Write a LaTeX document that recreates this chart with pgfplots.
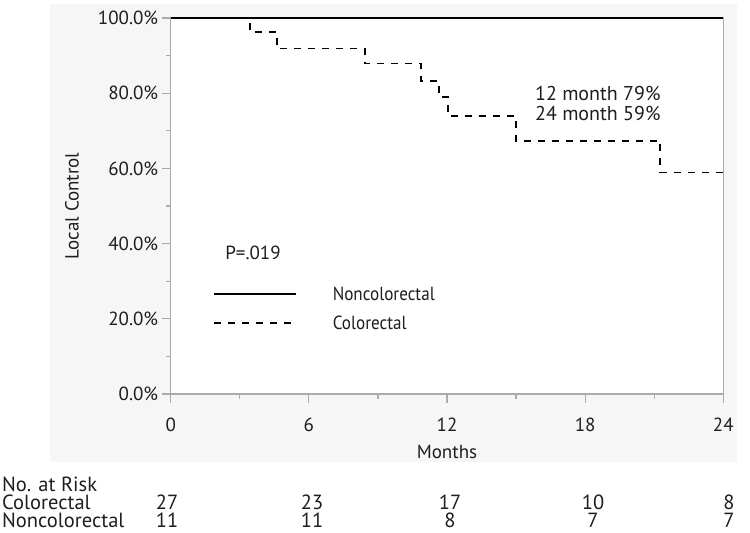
\documentclass[border=0pt]{standalone}
\usepackage{pgfplots}
\pgfplotsset{compat=1.18}
\usepackage{fontspec}
\setmainfont{PT Sans}
\newfontfamily\condA[FakeStretch=0.9]{PT Sans}
\definecolor{bgg}{HTML}{F6F6F6}
\definecolor{axg}{HTML}{ABABAB}
\definecolor{txt}{HTML}{1E1E1E}
\begin{document}
\begin{tikzpicture}[x=1pt,y=1pt]
\useasboundingbox (0,0) rectangle (750,533);
\fill[white] (0,0) rectangle (750,533);
\fill[bgg] (50,71) rectangle (737,529);
\begin{axis}[
  at={(170.7pt,139pt)}, anchor=south west,
  width=552.6pt, height=376pt, scale only axis,
  xmin=0, xmax=24, ymin=0, ymax=100,
  xtick={0,6,12,18,24}, minor xtick={3,9,15,21},
  ytick={0,20,40,60,80,100},
  yticklabels={0.0\%,20.0\%,40.0\%,60.0\%,80.0\%,100.0\%},
  minor ytick={10,30,50,70,90},
  tick align=outside, tick pos=left,
  major tick length=9pt, minor tick length=5pt,
  axis line style={axg, line width=1.5pt},
  every tick/.style={axg, line width=1.2pt},
  axis background/.style={fill=white},
  clip=false,
  /pgf/number format/assume math mode=true,
  ticklabel style={font=\fontsize{19}{20}\selectfont, text=txt},
  xticklabel style={yshift=-11pt},
  xlabel={Months}, ylabel={Local Control},
  label style={font=\fontsize{19}{20}\selectfont, text=txt},
  xlabel style={at={(axis description cs:0.5,-0.154)}, anchor=center},
  ylabel style={at={(axis description cs:-0.1786,0.5)}, anchor=center},
  legend image code/.code={\draw[#1] (0pt,0pt) -- (82pt,0pt); \path (117pt,0pt);},
  legend style={at={(axis description cs:0.0765,0.227)}, anchor=west,
    draw=none, fill=none, inner sep=0pt, row sep=14pt,
    nodes={inner sep=0pt, anchor=west, font=\condA\fontsize{19}{20}\selectfont, text=txt}},
  legend cell align=left,
]
\addplot[black, line width=2.6pt] coordinates {(0,100) (24,100)};
\addlegendentry{Noncolorectal}
\addplot[const plot, black, line width=1.8pt, dash pattern=on 7pt off 7pt] coordinates {
  (0,100) (3.44,96.3) (4.60,91.9) (8.44,87.9) (10.87,83.3) (11.65,79.0)
  (12.04,73.9) (14.98,67.3) (21.26,58.9) (24,58.9)};
\addlegendentry{Colorectal}
\end{axis}
\begin{scope}[every node/.style={font=\fontsize{19}{20}\selectfont, text=txt}]
\node at (253,280) {P=.019};
\node[align=right, anchor=east, font=\fontsize{20}{20}\selectfont] at (664,430) {12 month 79\%\\24 month 59\%};
\end{scope}
\begin{scope}[every node/.style={font=\fontsize{20.5}{18}\selectfont, text=txt, inner sep=0pt}]
\node[anchor=west] at (2,49) {No. at Risk};
\node[anchor=west] at (2,30.5) {Colorectal};
\node[anchor=west] at (2,12.3) {Noncolorectal};
\node at (167,30.5) {27}; \node at (312,30.5) {23}; \node at (450,30.5) {17};
\node at (593,30.5) {10}; \node at (729,30.5) {8};
\node at (167,12.3) {11}; \node at (312,12.3) {11}; \node at (450,12.3) {8};
\node at (593,12.3) {7}; \node at (729,12.3) {7};
\end{scope}
\end{tikzpicture}
\end{document}
